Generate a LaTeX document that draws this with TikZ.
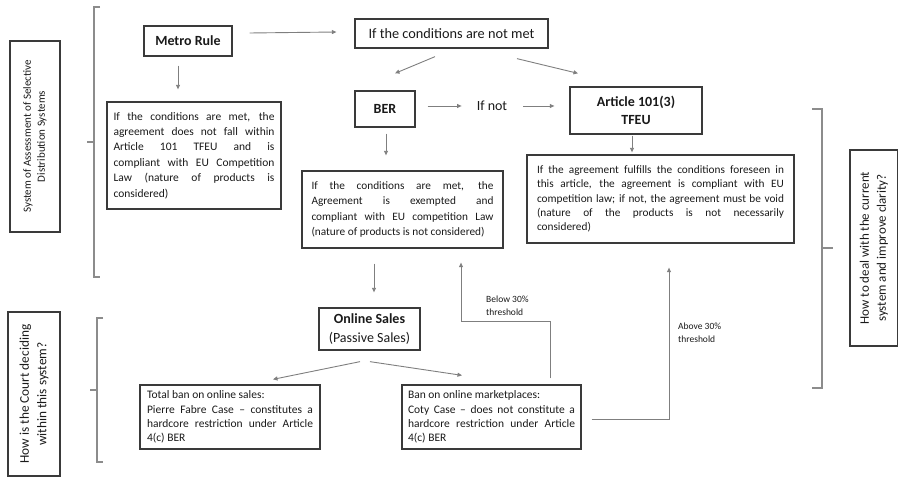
\documentclass[tikz,border=0pt]{standalone}
\usepackage{fontspec}
\setmainfont{Carlito}
\usetikzlibrary{arrows.meta}
\definecolor{bcol}{HTML}{3A3A3A}
\definecolor{tcol}{HTML}{1A1A1A}
\definecolor{acol}{HTML}{7F7F7F}
\definecolor{brcol}{HTML}{8C8C8C}
\begin{document}
\begin{tikzpicture}[x=1pt,y=-1pt,
  box/.style={draw=bcol, line width=1.3pt, inner sep=0pt, text=tcol},
  para/.style={box, align=justify, font=\fontsize{11.5}{15.4}\selectfont},
  title/.style={box, align=center, font=\fontsize{14}{17.5}\selectfont\bfseries},
  side/.style={box, rotate=90, align=center},
  con/.style={draw=acol, line width=0.9pt, -{Triangle[length=4.5pt,width=4pt]}},
  brack/.style={draw=brcol, line width=1.2pt},
  lab/.style={inner sep=0pt, text=tcol, align=left, font=\fontsize{9.5}{12.5}\selectfont}]
\useasboundingbox (0,0) rectangle (898,478);

% side boxes
\node[side, minimum width=191pt, minimum height=50pt, font=\fontsize{11}{14}\selectfont] (sys) at (35,136.5) {System of Assessment of Selective\\Distribution Systems};
\node[side, minimum width=164pt, minimum height=52pt, font=\fontsize{13.3}{17.5}\selectfont] (court) at (34,394) {How is the Court deciding\\within this system?};
\node[side, minimum width=196pt, minimum height=48pt, font=\fontsize{13}{17}\selectfont] (clar) at (874,248) {How to deal with the current\\system and improve clarity?};

% brackets
\draw[brack] (100,7) -- (94,7) -- (94,277) -- (100,277);
\draw[brack] (94,142) -- (87,142);
\draw[brack] (103,318) -- (97,318) -- (97,462) -- (103,462);
\draw[brack] (97,390) -- (90,390);
\draw[brack] (812,109) -- (822,109) -- (822,388) -- (812,388);
\draw[brack] (822,248) -- (833,248);

% main nodes
\node[title, minimum width=88pt, minimum height=30pt] (metro) at (188,41) {Metro Rule};
\node[para, minimum width=174pt, minimum height=107pt, text width=161pt] (metrores) at (194,155.5)
 {If the conditions are met, the\linebreak agreement does not fall within\linebreak Article 101 TFEU and is\linebreak compliant with EU Competition\linebreak Law (nature of products is\linebreak considered)};
\node[box, minimum width=193pt, minimum height=29pt, font=\fontsize{14.3}{17}\selectfont] (notmet) at (451.5,33.5) {If the conditions are not met};
\node[title, minimum width=60pt, minimum height=36pt] (ber) at (385,109) {BER};
\node[inner sep=0pt, text=tcol, font=\fontsize{14}{17}\selectfont] (ifnot) at (492,106) {If not};
\node[title, minimum width=132pt, minimum height=47pt] (art) at (636,110.5) {Article 101(3)\\TFEU};
\node[para, minimum width=267pt, minimum height=88pt, text width=247pt, font=\fontsize{11.3}{14.4}\selectfont] (artres) at (660.5,199)
 {If the agreement fulfills the conditions foreseen in\linebreak this article, the agreement is compliant with EU\linebreak competition law; if not, the agreement must be void\linebreak (nature of the products is not necessarily\linebreak considered)};
\node[para, minimum width=201pt, minimum height=77pt, text width=182pt, font=\fontsize{11.3}{15.3}\selectfont] (berres) at (402.5,209.5)
 {If the conditions are met, the\linebreak Agreement is exempted and\linebreak compliant with EU competition Law\linebreak (nature of products is not considered)};
\node[title, minimum width=101pt, minimum height=42pt, font=\fontsize{14}{18.3}\selectfont\bfseries] (online) at (369.5,329) {Online Sales\\\mdseries(Passive Sales)};
\node[para, minimum width=180pt, minimum height=64pt, text width=166pt, font=\fontsize{11.5}{14.2}\selectfont] (total) at (230,417)
 {Total ban on online sales:\\ Pierre Fabre Case – constitutes a\linebreak hardcore restriction under Article\linebreak 4(c) BER};
\node[para, minimum width=179pt, minimum height=64pt, text width=167pt, font=\fontsize{11.5}{14.2}\selectfont] (market) at (491.5,417)
 {Ban on online marketplaces:\\ Coty Case – does not constitute a\linebreak hardcore restriction under Article\linebreak 4(c) BER};

% labels
\node[lab, anchor=north west] (below) at (486,296) {Below 30\%\\threshold};
\node[lab, anchor=north west] (above) at (678,323) {Above 30\%\\threshold};

% connectors
\draw[con] ([shift={(-10,9)}]metro.south) -- ([shift={(-16,-12)}]metrores.north);
\draw[con] ([shift={(17,-8)}]metro.east) -- ([shift={(-18,-1.5)}]notmet.west);
\draw[con] ([shift={(-16.5,8)}]notmet.south) -- ([shift={(10,-17)}]ber.north);
\draw[con] ([shift={(65.5,10)}]notmet.south) -- ([shift={(-58,-13)}]art.north);
\draw[con] ([shift={(12,-3)}]ber.east) -- ([shift={(-15,0)}]ifnot.west);
\draw[con] ([shift={(16,0)}]ifnot.east) -- ([shift={(-15,-4.5)}]art.west);
\draw[con] ([shift={(1,6)}]ber.south) -- ([shift={(-16.5,-15)}]berres.north);
\draw[con] ([shift={(-4,1)}]art.south) -- ([shift={(-28.5,-2)}]artres.north);
\draw[con] ([shift={(-28.5,15)}]berres.south) -- ([shift={(4.5,-15)}]online.north);
\draw[con] ([shift={(-9.5,11)}]online.south) -- ([shift={(43,-5)}]total.north);
\draw[con] ([shift={(0.5,11)}]online.south) -- ([shift={(-29.5,-9)}]market.north);
\draw[con] ([shift={(58.5,-6)}]market.north) -- ++(0,-57) -| ([shift={(58.5,14)}]berres.south);
\draw[con] ([shift={(10,2)}]market.east) -| ([shift={(8.5,24)}]artres.south);
\end{tikzpicture}
\end{document}
